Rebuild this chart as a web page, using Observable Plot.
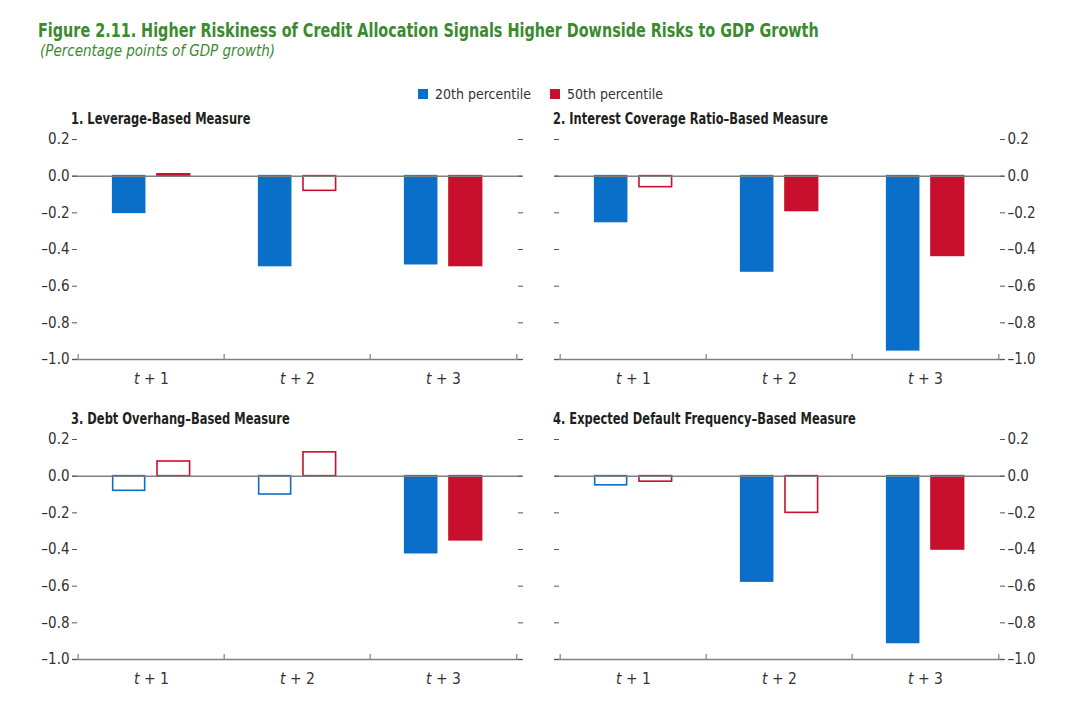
<!DOCTYPE html>
<html>
<head>
<meta charset="utf-8">
<script src="https://cdn.jsdelivr.net/npm/d3@7"></script>
<script src="https://cdn.jsdelivr.net/npm/@observablehq/plot@0.6"></script>
<style>
  html, body { margin: 0; padding: 0; background: #fff; }
  #wrap { position: relative; width: 1080px; height: 706px; overflow: hidden;
          font-family: "Liberation Sans Narrow", "DejaVu Sans Condensed", "Roboto", sans-serif; font-stretch: condensed; }
  .abs { position: absolute; white-space: nowrap; }
  #title { left: 38px; top: 19px; font-size: 19.5px; font-weight: bold; color: #3b8a2f; transform: scaleX(0.82); transform-origin: 0 0; }
  #subtitle { left: 40px; top: 42px; font-size: 15px; font-style: italic; color: #3b8a2f; }
  .legend { top: 86px; font-size: 14px; color: #333; display: flex; align-items: center; }
  .sw { display: inline-block; width: 10px; height: 10px; margin-right: 7px; }
  .ptitle { font-size: 15px; font-weight: bold; color: #231f20; transform: scaleX(0.85); transform-origin: 0 0; }
  svg { position: absolute; }
  svg g[aria-label="y-axis tick label"] text { font-size: 15px; fill: #333; }
  svg g[aria-label="x-axis tick label"] text { font-size: 15.5px; fill: #333; }
</style>
</head>
<body>
<div id="wrap"></div>
<script>
// ---- data ----
const horizons = ["t + 1", "t + 2", "t + 3"];
const seriesNames = ["20th percentile", "50th percentile"];
const seriesColors = ["#0a6fc8", "#c8102e"];
const panelTitles = [
  "1. Leverage-Based Measure",
  "2. Interest Coverage Ratio\u2013Based Measure",
  "3. Debt Overhang\u2013Based Measure",
  "4. Expected Default Frequency\u2013Based Measure"
];
const p20 = [
  [-0.20, -0.49, -0.48],
  [-0.25, -0.52, -0.95],
  [-0.08, -0.10, -0.42],
  [-0.05, -0.575, -0.91]
];
const p50 = [
  [0.01, -0.08, -0.49],
  [-0.06, -0.19, -0.435],
  [0.08, 0.13, -0.35],
  [-0.03, -0.20, -0.40]
];
// filled (true) vs hollow (false) bars
const sig20 = [
  [true, true, true],
  [true, true, true],
  [false, false, true],
  [false, true, true]
];
const sig50 = [
  [true, false, true],
  [false, true, true],
  [false, false, true],
  [false, false, true]
];
const yTicks = [0.2, 0.0, -0.2, -0.4, -0.6, -0.8, -1.0];

// ---- page ----
const wrap = document.getElementById("wrap");
function div(cls, text, style) {
  const d = document.createElement("div");
  d.className = "abs " + cls;
  if (text != null) d.textContent = text;
  Object.assign(d.style, style || {});
  wrap.appendChild(d);
  return d;
}
const t = div("", "Figure 2.11. Higher Riskiness of Credit Allocation Signals Higher Downside Risks to GDP Growth");
t.id = "title";
const st = div("", "(Percentage points of GDP growth)");
st.id = "subtitle";

seriesNames.forEach((s, i) => {
  const lg = div("legend", null, {left: (i === 0 ? 418 : 550) + "px"});
  const sw = document.createElement("span");
  sw.className = "sw";
  sw.style.background = seriesColors[i];
  lg.appendChild(sw);
  lg.appendChild(document.createTextNode(s));
});

const fmt = d => d.toFixed(1).replace("-", "\u2013");
const FONT = '"Liberation Sans Narrow", "DejaVu Sans Condensed", "Roboto", sans-serif';

function panel(i) {
  const left = i % 2 === 0;
  const top = i < 2 ? 130 : 430;
  const width = left ? 540 : 550;
  const mL = left ? 77 : 29;
  const mR = left ? 23 : 81;
  const bw = (width - mL - mR) / horizons.length;
  const data = horizons.flatMap((h, j) => [
    {h, s: 0, v: p20[i][j], sig: sig20[i][j]},
    {h, s: 1, v: p50[i][j], sig: sig50[i][j]}
  ]);
  const barOpts = (s) => ({
    x: "h", y: "v",
    fill: d => d.sig ? seriesColors[s] : "white",
    stroke: seriesColors[s],
    strokeWidth: 1.6,
    insetLeft: s === 0 ? bw * 0.2365 : bw * 0.5385,
    insetRight: s === 0 ? bw * 0.541 : bw * 0.2345
  });
  const noLabel = () => "";
  const plot = Plot.plot({
    width, height: 260,
    marginTop: 9, marginBottom: 31, marginLeft: mL, marginRight: mR,
    style: {fontFamily: FONT, fontSize: "14px", color: "#333", background: "transparent", fontStretch: "condensed"},
    x: {type: "band", domain: horizons, padding: 0, label: null},
    y: {domain: [-1, 0.2], label: null},
    color: {type: "identity"},
    marks: [
      Plot.barY(data.filter(d => d.s === 0), barOpts(0)),
      Plot.barY(data.filter(d => d.s === 1), barOpts(1)),
      Plot.ruleY([0], {stroke: "#808080", strokeWidth: 1.5, insetLeft: -5, insetRight: -5}),
      Plot.ruleY([-1], {stroke: "#808080", strokeWidth: 1.5, insetLeft: -5, insetRight: -5}),
      Plot.ruleX(horizons, {x: d => d, y1: -1, y2: -1, insetTop: -5, dx: -bw / 2, stroke: "#808080", strokeWidth: 1.2}),
      Plot.ruleX([horizons[horizons.length - 1]], {x: d => d, y1: -1, y2: -1, insetTop: -5, dx: bw / 2, stroke: "#808080", strokeWidth: 1.2}),
      Plot.axisX({tickSize: 0, tickPadding: 13, label: null, fontSize: 15}),
      Plot.axisY(yTicks, {anchor: "left", tickSize: 5, tickPadding: 3, tickFormat: left ? fmt : noLabel, label: null, stroke: "#555", fontSize: 14}),
      Plot.axisY(yTicks, {anchor: "right", tickSize: 5, tickPadding: 3, tickFormat: left ? noLabel : fmt, label: null, stroke: "#555", fontSize: 14})
    ]
  });
  plot.style.left = (left ? 0 : 530) + "px";
  plot.style.top = top + "px";
  wrap.appendChild(plot);
  // italic "t" in horizon labels
  d3.select(plot).selectAll('g[aria-label="x-axis tick label"] text').each(function() {
    const txt = this.textContent;
    const sel = d3.select(this);
    sel.text(null);
    sel.append("tspan").attr("font-style", "italic").text(txt.slice(0, 1));
    sel.append("tspan").text(txt.slice(1));
  });
  div("ptitle", panelTitles[i], {left: (left ? 71 : 553) + "px", top: (top - 20) + "px"});
}
[0, 1, 2, 3].forEach(panel);
</script>
</body>
</html>
